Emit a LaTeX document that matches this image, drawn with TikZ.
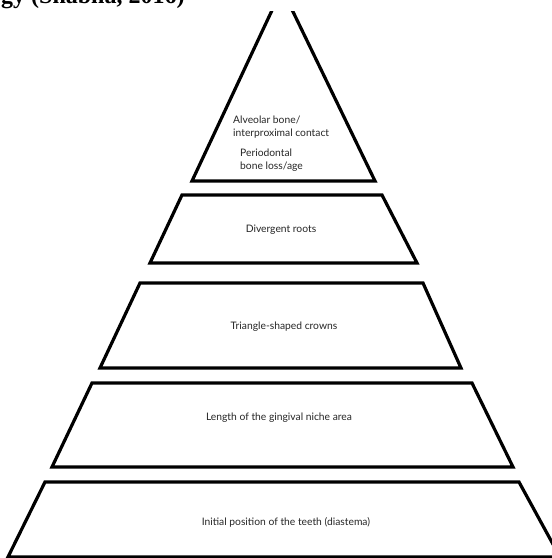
\documentclass[tikz,border=0pt]{standalone}
\usepackage{fontspec}
\setmainfont{Lato}
\newfontfamily\capfont{Liberation Serif}
\begin{document}
\begin{tikzpicture}[x=1pt,y=-1pt,
  tier/.style={line width=3.2pt, line join=miter},
  lbl/.style={font=\fontsize{10.3}{12.5}\selectfont, inner sep=0pt, text=black!85}]
\useasboundingbox (0,0) rectangle (552,558);
\clip (0,0) rectangle (552,558);
\fill[white] (0,0) rectangle (552,558);
% clipped caption fragment at the top (only its lower edge shows)
\node[anchor=base west, font=\capfont\bfseries\fontsize{24}{28}\selectfont, inner sep=0pt] (cap) at (1,3) {gy (Shabha, 2016)};
% apex triangle
\begin{scope}
  \clip (0,11) rectangle (552,200);
  \draw[tier] (192,181) -- (282,-11) -- (375,181) -- cycle;
\end{scope}
% tiers
\draw[tier] (182,195) -- (382,195) -- (417,263) -- (150,263) -- cycle;
\draw[tier] (140,283) -- (423,283) -- (461,368) -- (100,368) -- cycle;
\draw[tier] (92,383) -- (472,383) -- (513,467) -- (52,467) -- cycle;
\draw[tier] (45,482) -- (519,482) -- (560,557) -- (8,557) -- cycle;
% labels
\node[lbl, anchor=west, align=left] (t1) at (233,127) {Alveolar bone/\\interproximal contact};
\node[lbl, anchor=west, align=left, font=\fontsize{10.3}{13.5}\selectfont] (t2) at (240,160) {Periodontal\\bone loss/age};
\node[lbl] (t3) at (281,230) {Divergent roots};
\node[lbl] (t4) at (284,327) {Triangle-shaped crowns};
\node[lbl] (t5) at (279,418) {Length of the gingival niche area};
\node[lbl] (t6) at (286,522) {Initial position of the teeth (diastema)};
\end{tikzpicture}
\end{document}
